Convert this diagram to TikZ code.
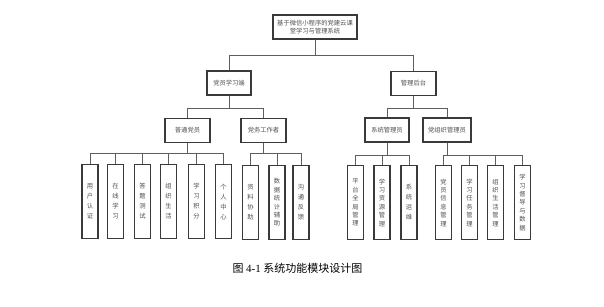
\documentclass[tikz,border=0pt]{standalone}
\usepackage{fontspec}
\setmainfont{Noto Sans CJK SC}
\newfontfamily\capserif{Liberation Serif}
\definecolor{boxc}{HTML}{3A3A3A}
\definecolor{linec}{HTML}{5E5E5E}
\definecolor{txtc}{HTML}{505050}
\begin{document}
\begin{tikzpicture}[x=1pt,y=-1pt,
  box/.style={draw=boxc, line width=1.1pt, fill=white, text=txtc, font=\fontsize{6.3}{8.4}\selectfont, inner sep=0pt, align=center},
  midbox/.style={box, minimum width=45pt, minimum height=24pt},
  leafbox/.style={box, minimum width=16pt, minimum height=74pt, anchor=north},
  leaffour/.style={leafbox, font=\fontsize{6.3}{10}\selectfont},
  leafsix/.style={leafbox, font=\fontsize{6.3}{8.4}\selectfont},
  conn/.style={draw=linec, line width=0.9pt}]
\fill[white] (0,0) rectangle (604,307);
\useasboundingbox (0,0) rectangle (604,307);

% root
\node[box, minimum width=84pt, minimum height=24pt] (root) at (315,27) {基于微信小程序的党建云课\\堂学习与管理系统};

% level 1
\node[midbox, minimum width=44pt] (dy) at (229,83) {党员学习端};
\node[midbox] (gl) at (413.5,83.5) {管理后台};

% level 2
\node[midbox] (pt) at (187.5,130.5) {普通党员};
\node[midbox] (dw) at (263.5,130.5) {党务工作者};
\node[midbox, minimum width=44pt] (xt) at (387,130) {系统管理员};
\node[midbox, minimum width=48pt] (dz) at (447,130) {党组织管理员};

% leaves
\node[leaffour] (a1) at (90,164) {用\\户\\认\\证};
\node[leaffour] (a2) at (115.5,164) {在\\线\\学\\习};
\node[leaffour] (a3) at (142.5,164) {答\\题\\测\\试};
\node[leaffour] (a4) at (168.5,164) {组\\织\\生\\活};
\node[leaffour] (a5) at (196.5,164) {学\\习\\积\\分};
\node[leaffour] (a6) at (223.5,164) {个\\人\\中\\心};

\node[leaffour] (b1) at (250.5,165) {资\\料\\协\\助};
\node[leafsix] (b2) at (277,165) {数\\据\\统\\计\\辅\\助};
\node[leaffour] (b3) at (301,165) {沟\\通\\反\\馈};

\node[leafsix] (c1) at (355.5,165) {平\\台\\全\\局\\管\\理};
\node[leafsix] (c2) at (382,165) {学\\习\\资\\源\\管\\理};
\node[leaffour] (c3) at (409,165) {系\\统\\运\\维};

\node[leafsix] (d1) at (443.5,165) {党\\员\\信\\息\\管\\理};
\node[leafsix] (d2) at (469.5,165) {学\\习\\任\\务\\管\\理};
\node[leafsix] (d3) at (495.5,165) {组\\织\\生\\活\\管\\理};
\node[leafsix] (d4) at (522.5,165) {学\\习\\督\\导\\与\\数\\据};

% bar levels
\coordinate (y0) at (0,55);
\coordinate (y1) at (0,108);
\coordinate (y2) at (0,153.5);
\coordinate (y3) at (0,155.5);

% connectors
\foreach \c in {dy,gl}
  \draw[conn] (root.south) -- (root.south |- y0) -| (\c.north);
\foreach \c in {pt,dw}
  \draw[conn] (dy.south) -- (dy.south |- y1) -| (\c.north);
\foreach \c in {xt,dz}
  \draw[conn] (gl.south) -- (gl.south |- y1) -| (\c.north);
\foreach \c in {a1,a2,a3,a4,a5,a6}
  \draw[conn] (pt.south) -- (pt.south |- y2) -| (\c.north);
\foreach \c in {b1,b2,b3}
  \draw[conn] (dw.south) -- (dw.south |- y2) -| (\c.north);
\foreach \c in {c1,c2,c3}
  \draw[conn] (xt.south) -- (xt.south |- y3) -| (\c.north);
\foreach \c in {d1,d2,d3,d4}
  \draw[conn] (dz.south) -- (dz.south |- y3) -| (\c.north);

% caption
\node[text=black, inner sep=0pt] (cap) at (297.5,268) {\fontsize{11}{13}\selectfont 图 {\capserif 4-1} 系统功能模块设计图};
\end{tikzpicture}
\end{document}
